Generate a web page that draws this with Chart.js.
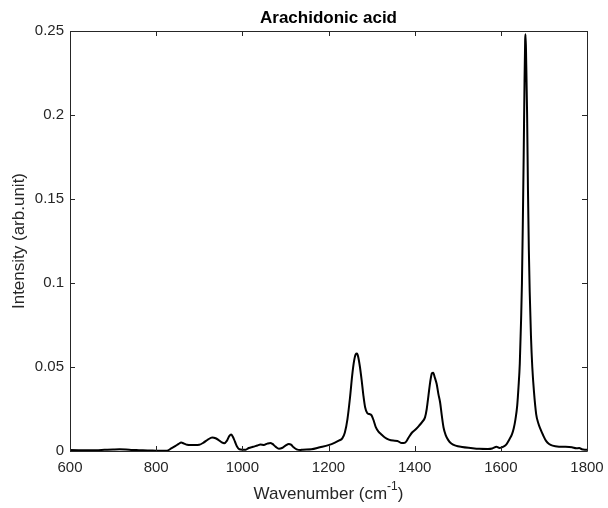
<!DOCTYPE html>
<html>
<head>
<meta charset="utf-8">
<script src="https://cdn.jsdelivr.net/npm/chart.js@4/dist/chart.umd.min.js"></script>
<style>
  html, body { margin: 0; padding: 0; background: #ffffff; }
  #wrap { width: 608px; height: 508px; }
</style>
</head>
<body>
<div id="wrap"><canvas id="c" width="608" height="508"></canvas></div>
<script>
const chartTitle = "Arachidonic acid";
const xTitleMain = "Wavenumber (cm";
const xTitleSup = "-1";
const xTitleEnd = ")";
const yTitle = "Intensity (arb.unit)";
const xTickValues = [600, 800, 1000, 1200, 1400, 1600, 1800];
const yTickValues = [0, 0.05, 0.1, 0.15, 0.2, 0.25];
const yTickLabels = ["0", "0.05", "0.1", "0.15", "0.2", "0.25"];

const wavenumbers = [
  600, 620, 640, 660, 680, 700, 715, 730, 745, 760, 780, 800, 815, 825,
  835, 845, 852, 858, 865, 872, 880, 890, 900, 910, 920, 930, 938, 945,
  952, 958, 964, 970, 974, 978, 983, 988, 993, 1000, 1008, 1015, 1025,
  1035, 1042, 1050, 1058, 1065, 1070, 1077, 1085, 1092, 1100, 1108, 1113,
  1119, 1126, 1135, 1140, 1160, 1180, 1200, 1215, 1225, 1232, 1238, 1244,
  1250, 1255, 1259, 1263, 1266, 1269, 1273, 1277, 1281, 1285, 1290, 1295,
  1300, 1305, 1310, 1316, 1322, 1330, 1340, 1350, 1360, 1370, 1378, 1386,
  1394, 1402, 1410, 1418, 1424, 1428, 1432, 1436, 1440, 1443, 1447, 1451,
  1455, 1459, 1463, 1467, 1472, 1478, 1485, 1495, 1510, 1530, 1550, 1570,
  1580, 1590, 1597, 1605, 1613, 1620, 1626, 1630, 1634, 1638, 1641, 1644,
  1647, 1649, 1651, 1653, 1655, 1656.5, 1657.5, 1659, 1661, 1663, 1665,
  1667, 1670, 1673, 1677, 1682, 1687, 1692, 1698, 1705, 1712, 1720, 1735,
  1750, 1765, 1775, 1782, 1788, 1795, 1800
];
const intensity = [
  0.0006, 0.0005, 0.0004, 0.0005, 0.0007, 0.0009, 0.0010, 0.0009, 0.0006, 0.0005, 0.0003, 0.0002, 0.0001, 0.0002,
  0.0015, 0.0030, 0.0042, 0.0050, 0.0044, 0.0037, 0.0035, 0.0035, 0.0037, 0.0050, 0.0068, 0.0080, 0.0076, 0.0065,
  0.0052, 0.0046, 0.0060, 0.0090, 0.0098, 0.0085, 0.0055, 0.0025, 0.0010, 0.0008, 0.0008, 0.0018, 0.0025,
  0.0033, 0.0038, 0.0036, 0.0044, 0.0048, 0.0042, 0.0026, 0.0014, 0.0018, 0.0032, 0.0042, 0.0038,
  0.0022, 0.0010, 0.0006, 0.0008, 0.0010, 0.0022, 0.0035, 0.0050, 0.0063, 0.0075, 0.0110, 0.0190,
  0.0320, 0.0450, 0.0530, 0.0575, 0.0580, 0.0560, 0.0500, 0.0420, 0.0330, 0.0260, 0.0225, 0.0220,
  0.0212, 0.0180, 0.0140, 0.0115, 0.0100, 0.0082, 0.0068, 0.0062, 0.0060, 0.0047, 0.0050, 0.0080,
  0.0110, 0.0128, 0.0150, 0.0175, 0.0200, 0.0250, 0.0330, 0.0410, 0.0462, 0.0466, 0.0435, 0.0400,
  0.0340, 0.0290, 0.0210, 0.0140, 0.0095, 0.0065, 0.0045, 0.0032, 0.0024, 0.0018, 0.0013, 0.0012,
  0.0015, 0.0025, 0.0018, 0.0024, 0.0040, 0.0070, 0.0100, 0.0135, 0.0190, 0.0270, 0.0380, 0.0520,
  0.0780, 0.1000, 0.1350, 0.1750, 0.2200, 0.2450, 0.2480, 0.2300, 0.2000, 0.1550, 0.1200,
  0.0950, 0.0680, 0.0500, 0.0350, 0.0220, 0.0165, 0.0130, 0.0095, 0.0060, 0.0042, 0.0032, 0.0026,
  0.0025, 0.0022, 0.0016, 0.0018, 0.0010, 0.0008, 0.0008
];

const points = wavenumbers.map((w, i) => ({ x: w, y: intensity[i] }));

const FONT = "'Liberation Sans', Arial, Helvetica, sans-serif";
const AXIS_COLOR = "#262626";

const framePlugin = {
  id: "frame",
  afterDatasetsDraw(chart) {
    const { ctx, chartArea: a, scales } = chart;
    const xs = scales.x, ys = scales.y;
    const tl = 5;
    ctx.save();
    ctx.strokeStyle = AXIS_COLOR;
    ctx.lineWidth = 1;
    ctx.beginPath();
    ctx.rect(Math.round(a.left) + 0.5, Math.round(a.top) + 0.5,
             Math.round(a.right - a.left), Math.round(a.bottom - a.top));
    ctx.stroke();
    ctx.beginPath();
    xTickValues.forEach(v => {
      const px = Math.round(xs.getPixelForValue(v)) + 0.5;
      ctx.moveTo(px, a.bottom); ctx.lineTo(px, a.bottom - tl);
      ctx.moveTo(px, a.top); ctx.lineTo(px, a.top + tl);
    });
    yTickValues.forEach(v => {
      const py = Math.round(ys.getPixelForValue(v)) + 0.5;
      ctx.moveTo(a.left, py); ctx.lineTo(a.left + tl, py);
      ctx.moveTo(a.right, py); ctx.lineTo(a.right - tl, py);
    });
    ctx.stroke();

    // titles
    ctx.fillStyle = "#000000";
    ctx.textAlign = "center";
    ctx.textBaseline = "middle";
    ctx.font = "bold 17px " + FONT;
    ctx.fillText(chartTitle, (a.left + a.right) / 2, 18);

    ctx.fillStyle = AXIS_COLOR;
    ctx.font = "17px " + FONT;
    const wMain = ctx.measureText(xTitleMain).width;
    const wEnd = ctx.measureText(xTitleEnd).width;
    ctx.font = "12px " + FONT;
    const wSup = ctx.measureText(xTitleSup).width;
    const total = wMain + wSup + wEnd;
    let sx = (a.left + a.right) / 2 - total / 2;
    const ty = 494;
    ctx.textAlign = "left";
    ctx.font = "17px " + FONT;
    ctx.fillText(xTitleMain, sx, ty);
    ctx.font = "12px " + FONT;
    ctx.fillText(xTitleSup, sx + wMain, ty - 7);
    ctx.font = "17px " + FONT;
    ctx.fillText(xTitleEnd, sx + wMain + wSup, ty);

    ctx.save();
    ctx.translate(19, (a.top + a.bottom) / 2);
    ctx.rotate(-Math.PI / 2);
    ctx.textAlign = "center";
    ctx.fillText(yTitle, 0, 0);
    ctx.restore();
    ctx.restore();
  }
};

new Chart(document.getElementById("c"), {
  type: "line",
  data: {
    datasets: [{
      data: points,
      borderColor: "#000000",
      borderWidth: 2,
      pointRadius: 0,
      fill: false,
      cubicInterpolationMode: "monotone"
    }]
  },
  options: {
    responsive: false,
    animation: false,
    events: [],
    layout: { padding: { top: 31, right: 21, left: 0, bottom: 0 } },
    plugins: { legend: { display: false }, tooltip: { enabled: false }, title: { display: false } },
    scales: {
      x: {
        type: "linear",
        min: 600, max: 1800,
        afterBuildTicks: s => { s.ticks = xTickValues.map(v => ({ value: v })); },
        afterFit: s => { s.height = 57; s.paddingLeft = 0; s.paddingRight = 0; },
        grid: { display: false, drawTicks: false },
        border: { display: false },
        ticks: { color: AXIS_COLOR, font: { family: FONT, size: 15 }, padding: 8, maxRotation: 0, autoSkip: false,
                 callback: v => String(v) }
      },
      y: {
        type: "linear",
        min: 0, max: 0.25,
        afterBuildTicks: s => { s.ticks = yTickValues.map(v => ({ value: v })); },
        afterFit: s => { s.width = 70; s.paddingTop = 0; s.paddingBottom = 0; },
        grid: { display: false, drawTicks: false },
        border: { display: false },
        ticks: { color: AXIS_COLOR, font: { family: FONT, size: 15 }, padding: 6, autoSkip: false,
                 callback: (v) => { const i = yTickValues.findIndex(t => Math.abs(t - v) < 1e-9); return i >= 0 ? yTickLabels[i] : ""; } }
      }
    }
  },
  plugins: [framePlugin]
});
</script>
</body>
</html>
